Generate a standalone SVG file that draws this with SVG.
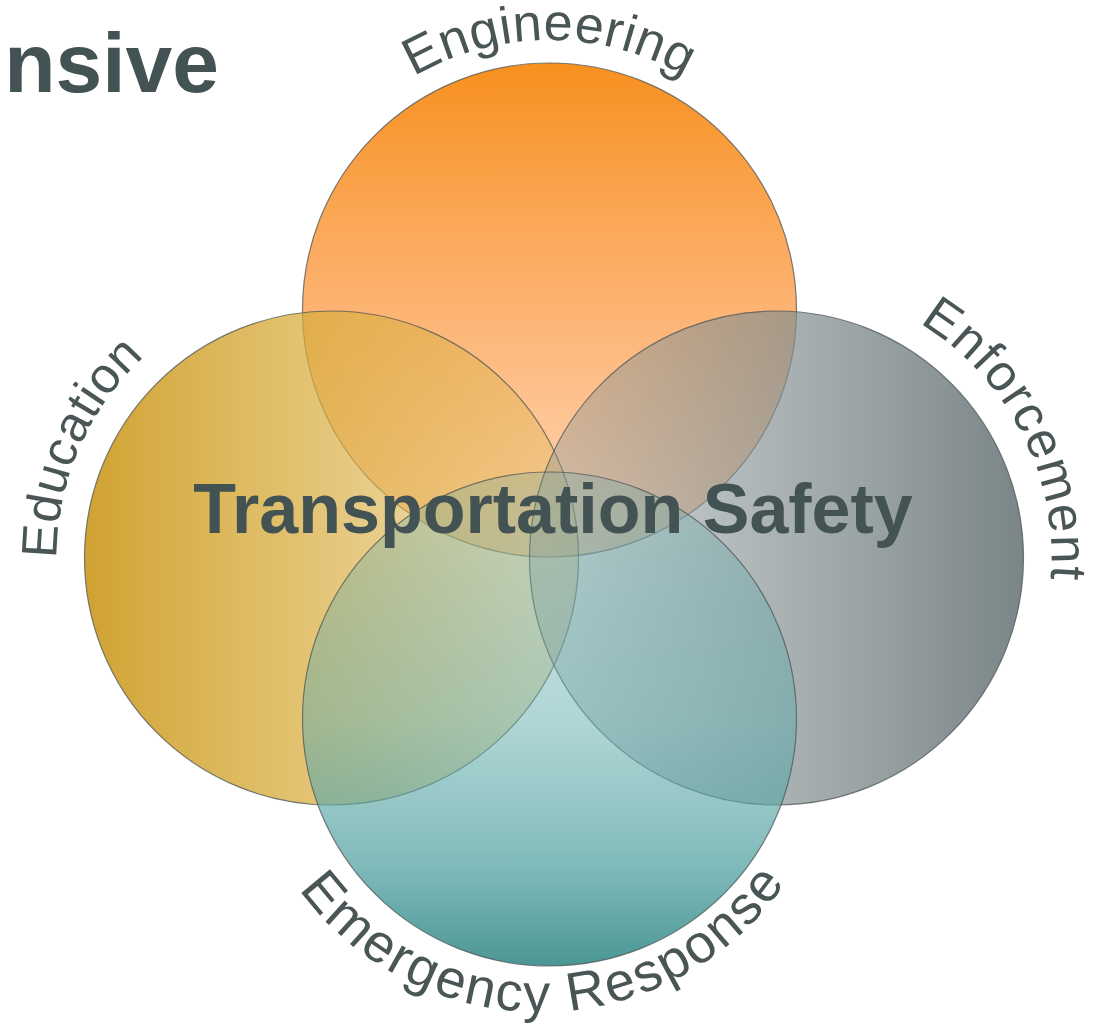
<svg xmlns="http://www.w3.org/2000/svg" width="1105" height="1032" viewBox="0 0 1105 1032">
<style>
.circ{stroke:#4f5555;stroke-opacity:0.75;stroke-width:1.2}
.lbl{font-family:"Liberation Sans",Arial,sans-serif;fill:#4a5656}
.title{font-family:"Liberation Sans",Arial,sans-serif;font-weight:bold;fill:#435252}
</style>
<defs>
<linearGradient id="gTop" gradientUnits="userSpaceOnUse" x1="0" y1="63" x2="0" y2="557">
<stop offset="0" stop-color="#f7901e" stop-opacity="1"/><stop offset="0.5" stop-color="#fc9a44" stop-opacity="0.75"/><stop offset="1" stop-color="#ffa860" stop-opacity="0.45"/>
</linearGradient>
<linearGradient id="gLeft" gradientUnits="userSpaceOnUse" x1="85" y1="0" x2="578" y2="0">
<stop offset="0" stop-color="#d0a232" stop-opacity="1"/><stop offset="0.45" stop-color="#d8ac3c" stop-opacity="0.72"/><stop offset="1" stop-color="#dcb450" stop-opacity="0.33"/>
</linearGradient>
<linearGradient id="gRight" gradientUnits="userSpaceOnUse" x1="530" y1="0" x2="1023" y2="0">
<stop offset="0" stop-color="#8a9699" stop-opacity="0.35"/><stop offset="1" stop-color="#7a8587" stop-opacity="1"/>
</linearGradient>
<linearGradient id="gBottom" gradientUnits="userSpaceOnUse" x1="0" y1="472" x2="0" y2="966">
<stop offset="0" stop-color="#5aa5a5" stop-opacity="0.25"/><stop offset="0.5" stop-color="#62acac" stop-opacity="0.5"/><stop offset="0.8" stop-color="#55a2a2" stop-opacity="0.75"/><stop offset="1" stop-color="#4a9694" stop-opacity="1"/>
</linearGradient>
<path id="arcEng" d="M 279.5 310 A 270 270 0 0 1 819.5 310"/>
<path id="arcEdu" d="M 331.5 833 A 275 275 0 0 1 331.5 283"/>
<path id="arcEnf" d="M 776.5 283 A 275 275 0 0 1 776.5 833"/>
<path id="arcEmr" d="M 242 714 A 298 298 0 0 0 838 714"/>
</defs>
<rect width="1105" height="1032" fill="#ffffff"/>
<text class="title" x="219" y="92" font-size="84" text-anchor="end">nsive</text>
<g id="node-top"><circle class="circ" cx="549.5" cy="310" r="247" fill="url(#gTop)"/></g>
<g id="node-left"><circle class="circ" cx="331.5" cy="558" r="247" fill="url(#gLeft)"/></g>
<g id="node-right"><circle class="circ" cx="776.5" cy="558" r="247" fill="url(#gRight)"/></g>
<g id="node-bottom"><circle class="circ" cx="549.5" cy="719" r="247" fill="url(#gBottom)"/></g>
<g id="connectors"></g>
<g id="labels">
<text class="lbl" font-size="52" letter-spacing="0.6" text-anchor="middle"><textPath href="#arcEng" startOffset="50%">Engineering</textPath></text>
<text class="lbl" font-size="50" letter-spacing="0.5" text-anchor="middle"><textPath href="#arcEdu" startOffset="63.1%">Education</textPath></text>
<text class="lbl" font-size="51" letter-spacing="1.4" text-anchor="middle"><textPath href="#arcEnf" startOffset="35%">Enforcement</textPath></text>
<text class="lbl" font-size="54" letter-spacing="2.2" text-anchor="middle"><textPath href="#arcEmr" startOffset="50.5%">Emergency Response</textPath></text>
</g>
<g id="center-label"><text class="title" x="553" y="533" font-size="70" text-anchor="middle">Transportation Safety</text></g>
</svg>
